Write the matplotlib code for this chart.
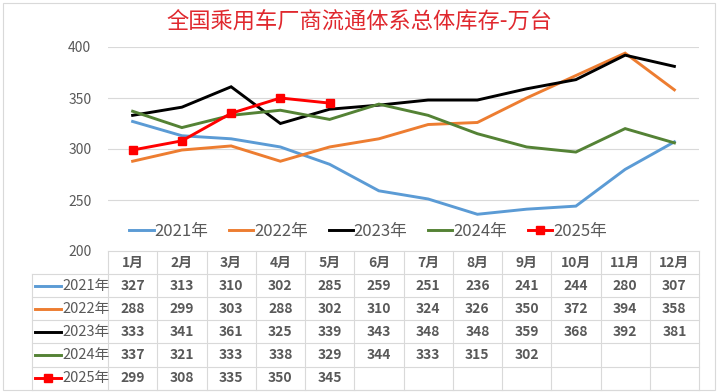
import numpy as np
import matplotlib
matplotlib.use("Agg")
import matplotlib.pyplot as plt
from matplotlib.patches import Rectangle
from matplotlib.lines import Line2D

plt.rcParams["font.family"] = ["Noto Sans CJK SC", "DejaVu Sans"]

# ── data ─────────────────────────────────────────────────────────────────────
months = ["1月", "2月", "3月", "4月", "5月", "6月",
          "7月", "8月", "9月", "10月", "11月", "12月"]
years = ["2021年", "2022年", "2023年", "2024年", "2025年"]

v2021 = [327, 313, 310, 302, 285, 259, 251, 236, 241, 244, 280, 307]
v2022 = [288, 299, 303, 288, 302, 310, 324, 326, 350, 372, 394, 358]
v2023 = [333, 341, 361, 325, 339, 343, 348, 348, 359, 368, 392, 381]
v2024 = [337, 321, 333, 338, 329, 344, 333, 315, 302, 297, 320, 306]
v2025 = [299, 308, 335, 350, 345]
# cells shown in the data table (rest hidden in the source picture)
shown = [12, 12, 12, 9, 5]

yticks = [200, 250, 300, 350, 400]

series = [v2021, v2022, v2023, v2024, v2025]
colors = ["#5B9BD5", "#ED7D31", "#000000", "#548235", "#FF0000"]
markers = [None, None, None, None, "s"]

# ── layout (pixels) ──────────────────────────────────────────────────────────
W, H = 719, 392
PX_L, PX_R = 108, 699       # plot / table column area
PX_TOP, PX_BOT = 47, 251    # y=400 and y=200
ROW_H = 23.1
LBL_L = 32                  # left edge of row-label column
TBL_BOT = PX_BOT + 6 * ROW_H

fig = plt.figure(figsize=(W / 100, H / 100), dpi=100)
fig.patch.set_facecolor("white")

# outer chart border
fig.add_artist(Rectangle((3 / W, 1 - 390 / H), 712 / W, 387 / H,
                         transform=fig.transFigure, fill=False,
                         edgecolor="#D9D9D9", linewidth=0.8))

ax = fig.add_axes([PX_L / W, 1 - PX_BOT / H,
                   (PX_R - PX_L) / W, (PX_BOT - PX_TOP) / H])
x = np.arange(len(months))
for vals, c, m, lab in zip(series, colors, markers, years):
    ax.plot(x[:len(vals)], vals, color=c, lw=2.1, marker=m, ms=6,
            solid_joinstyle="miter", label=lab, zorder=3)

ax.set_xlim(-0.5, len(months) - 0.5)
ax.set_ylim(200, 400)
ax.set_yticks(yticks)
ax.set_xticks([])
ax.tick_params(axis="y", length=0, pad=12, labelsize=10, labelcolor="#595959")
for yv in yticks[1:]:
    ax.axhline(yv, color="#D9D9D9", lw=0.8, zorder=1)
for s in ax.spines.values():
    s.set_visible(False)

leg = ax.legend(loc="center", bbox_to_anchor=(0.44, 0.095), ncol=5,
                frameon=False, fontsize=12, handlelength=1.45,
                handletextpad=0.05, columnspacing=1.25, labelcolor="#595959")

fig.text(0.5, 1 - 22 / H, "全国乘用车厂商流通体系总体库存-万台",
         ha="center", va="center", fontsize=16, color="#E0282E")

# ── data table ───────────────────────────────────────────────────────────────
tax = fig.add_axes([0, 0, 1, 1])
tax.set_xlim(0, W)
tax.set_ylim(H, 0)
tax.axis("off")

col_w = (PX_R - PX_L) / len(months)
grid_c = "#D9D9D9"

# horizontal lines
tax.plot([PX_L, PX_R], [PX_BOT, PX_BOT], color=grid_c, lw=0.8)
for r in range(1, 7):
    y = PX_BOT + r * ROW_H
    tax.plot([LBL_L, PX_R], [y, y], color=grid_c, lw=0.8)
# vertical lines
for k in range(len(months) + 1):
    xx = PX_L + k * col_w
    tax.plot([xx, xx], [PX_BOT, TBL_BOT], color=grid_c, lw=0.8)
tax.plot([LBL_L, LBL_L], [PX_BOT + ROW_H, TBL_BOT], color=grid_c, lw=0.8)

txt_c = "#595959"
for k, mth in enumerate(months):
    tax.text(PX_L + (k + 0.5) * col_w, PX_BOT + ROW_H / 2, mth,
             ha="center", va="center", fontsize=10, color=txt_c,
             fontweight="bold")

for r, (vals, c, m, lab, n) in enumerate(zip(series, colors, markers, years, shown)):
    yc = PX_BOT + (r + 1.5) * ROW_H
    tax.add_line(Line2D([35, 61], [yc, yc], color=c, lw=2.1))
    if m:
        tax.plot([48], [yc], marker=m, ms=5.5, color=c)
    tax.text(62, yc, lab, ha="left", va="center", fontsize=10.5, color=txt_c)
    for k in range(n):
        tax.text(PX_L + (k + 0.5) * col_w, yc, str(vals[k]),
                 ha="center", va="center", fontsize=10, color=txt_c,
                 fontweight="bold")

fig.savefig("out.png", dpi=100, facecolor="white")
